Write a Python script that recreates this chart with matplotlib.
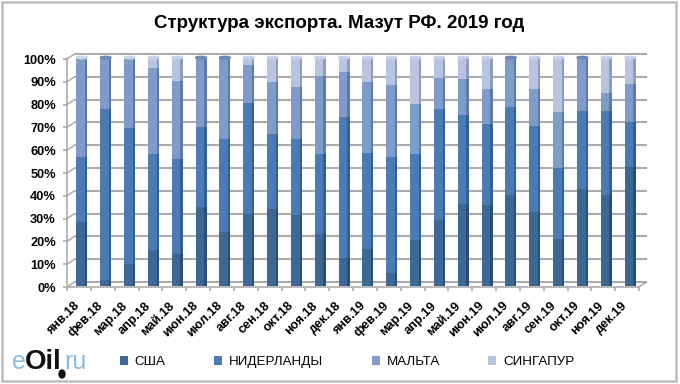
import matplotlib
matplotlib.use("Agg")
import matplotlib.pyplot as plt
import numpy as np
from matplotlib.lines import Line2D
from matplotlib.patches import Ellipse, Rectangle
from matplotlib.transforms import IdentityTransform, ScaledTranslation

months = ["янв.18", "фев.18", "мар.18", "апр.18", "май.18", "июн.18", "июл.18", "авг.18",
          "сен.18", "окт.18", "ноя.18", "дек.18", "янв.19", "фев.19", "мар.19", "апр.19",
          "май.19", "июн.19", "июл.19", "авг.19", "сен.19", "окт.19", "ноя.19", "дек.19"]
usa = [27.9, 2.5, 9.5, 15.4, 13.9, 34.3, 23.3, 31.2, 33.7, 30.9, 22.6, 12.3,
       16.0, 5.7, 20.0, 28.6, 35.6, 35.2, 39.9, 32.3, 20.5, 42.5, 39.9, 52.0]
nld = [28.6, 74.8, 59.7, 42.4, 41.8, 35.2, 41.1, 48.8, 32.9, 33.5, 35.2, 61.7,
       42.2, 50.8, 37.9, 48.8, 39.4, 35.8, 38.4, 37.6, 31.0, 33.9, 36.8, 19.8]
malta = [42.8, 22.7, 30.1, 37.7, 34.0, 30.4, 35.6, 16.9, 22.5, 22.7, 34.0, 19.7,
         31.2, 31.6, 21.9, 13.5, 15.8, 15.2, 21.3, 16.3, 24.6, 23.6, 7.9, 16.8]
sing = [0.7, 0.0, 0.7, 4.5, 10.3, 0.1, 0.0, 3.1, 10.9, 12.9, 8.2, 6.3,
        10.6, 11.9, 20.2, 9.1, 9.2, 13.8, 0.4, 13.8, 23.9, 0.0, 15.4, 11.4]
names = ["США", "НИДЕРЛАНДЫ", "МАЛЬТА", "СИНГАПУР"]
colors = ["#3c6797", "#4a7bb5", "#7f9bcb", "#b6c4e0"]
sides = ["#2b4e75", "#345f92", "#5f7aa6", "#8e9dbb"]

plt.rcParams["font.family"] = ["Liberation Sans", "DejaVu Sans"]
W, H = 680, 384
fig = plt.figure(figsize=(W / 100, H / 100), dpi=100)
ax = fig.add_axes([67 / W, 1 - 287 / H, 572 / W, 228 / H])
ax.set_xlim(0, 24)
ax.set_ylim(0, 100)
ax.patch.set_alpha(0)


def shifted(dx, dy):
    return ax.transData + ScaledTranslation(dx / 100, dy / 100, fig.dpi_scale_trans)


grid_c = "#ababab"
ticks = np.arange(0, 101, 10)
# back wall grid
ax.hlines(ticks, 0, 24, color=grid_c, lw=1.5, transform=shifted(7.5, 5), clip_on=False, zorder=1)

# bars, front face plus a darker side strip
x = np.arange(24) + 0.5
bar_tr = shifted(1.8, 1.4)
bottom = np.zeros(24)
for name, vals, c, s in zip(names, [usa, nld, malta, sing], colors, sides):
    vals = np.array(vals)
    ax.bar(x, vals, 0.365, bottom=bottom, color=c, label=name, transform=bar_tr, zorder=3, clip_on=False)
    ax.bar(x + 0.23, vals, 0.096, bottom=bottom, color=s, transform=bar_tr, zorder=3, clip_on=False)
    bottom = bottom + vals
tops = bottom
for xi, t, sv in zip(x, tops, sing):
    cap = "#6f88ad" if sv < 0.5 else "#c9d3e8"
    ax.add_patch(Ellipse((xi + 0.05, t), 0.46, 1.1, color=cap, transform=bar_tr, zorder=4, clip_on=False))

ax.set_xticks(np.arange(25))
ax.set_xticklabels([])
for xi, m in zip(x, months):
    ax.annotate(m, (xi, 0), xytext=(-4, -9), textcoords="offset points", rotation=45, rotation_mode="anchor",
                ha="right", va="top", fontsize=9.2, fontweight="bold", color="#000000")
ax.set_yticks(ticks)
ax.set_yticklabels([f"{v}%" for v in ticks], fontsize=9.2, fontweight="bold")
ax.tick_params(axis="both", color=grid_c, width=1.2, length=3)
ax.tick_params(axis="y", pad=5)
for sp in ["top", "right"]:
    ax.spines[sp].set_visible(False)
for sp in ["left", "bottom"]:
    ax.spines[sp].set_color(grid_c)
    ax.spines[sp].set_linewidth(1.2)

# diagonals joining the front plane to the back wall
fig.canvas.draw()
for v in ticks:
    x0, y0 = ax.transData.transform((0, v))
    fig.add_artist(Line2D([x0, x0 + 7.5], [y0, y0 + 5], color=grid_c, lw=1.1, transform=IdentityTransform()))
x0, y0 = ax.transData.transform((24, 0))
fig.add_artist(Line2D([x0, x0 + 7.5], [y0, y0 + 5], color=grid_c, lw=1.1, transform=IdentityTransform()))

fig.text(339 / W, 1 - 24 / H, "Структура экспорта. Мазут РФ. 2019 год", ha="center", va="center",
         fontsize=13.5, fontweight="bold")

leg = fig.legend(loc="center left", bbox_to_anchor=(120 / W, 1 - 362 / H), ncol=4, frameon=False, fontsize=9.6,
                 handlelength=0.6, handleheight=0.6, handletextpad=0.5, columnspacing=3.65, borderpad=0, borderaxespad=0)

# logo
fig.text(12 / W, 1 - 369 / H, "e", color="#8dbbe0", fontsize=18, va="baseline")
fig.text(25 / W, 1 - 369 / H, "Oil", color="#111111", fontsize=20, fontweight="bold", va="baseline")
fig.text(64 / W, 1 - 369 / H, "ru", color="#8dbbe0", fontsize=18, va="baseline")
fig.add_artist(Ellipse((62, H - 374), 6, 8, color="#111111", transform=IdentityTransform()))

# outer frame
fig.add_artist(Rectangle((1.5, H - 381), 674, 379, fill=False, ec="#bdbdbd", lw=1.8, transform=IdentityTransform()))

plt.savefig("out.png", dpi=100)
